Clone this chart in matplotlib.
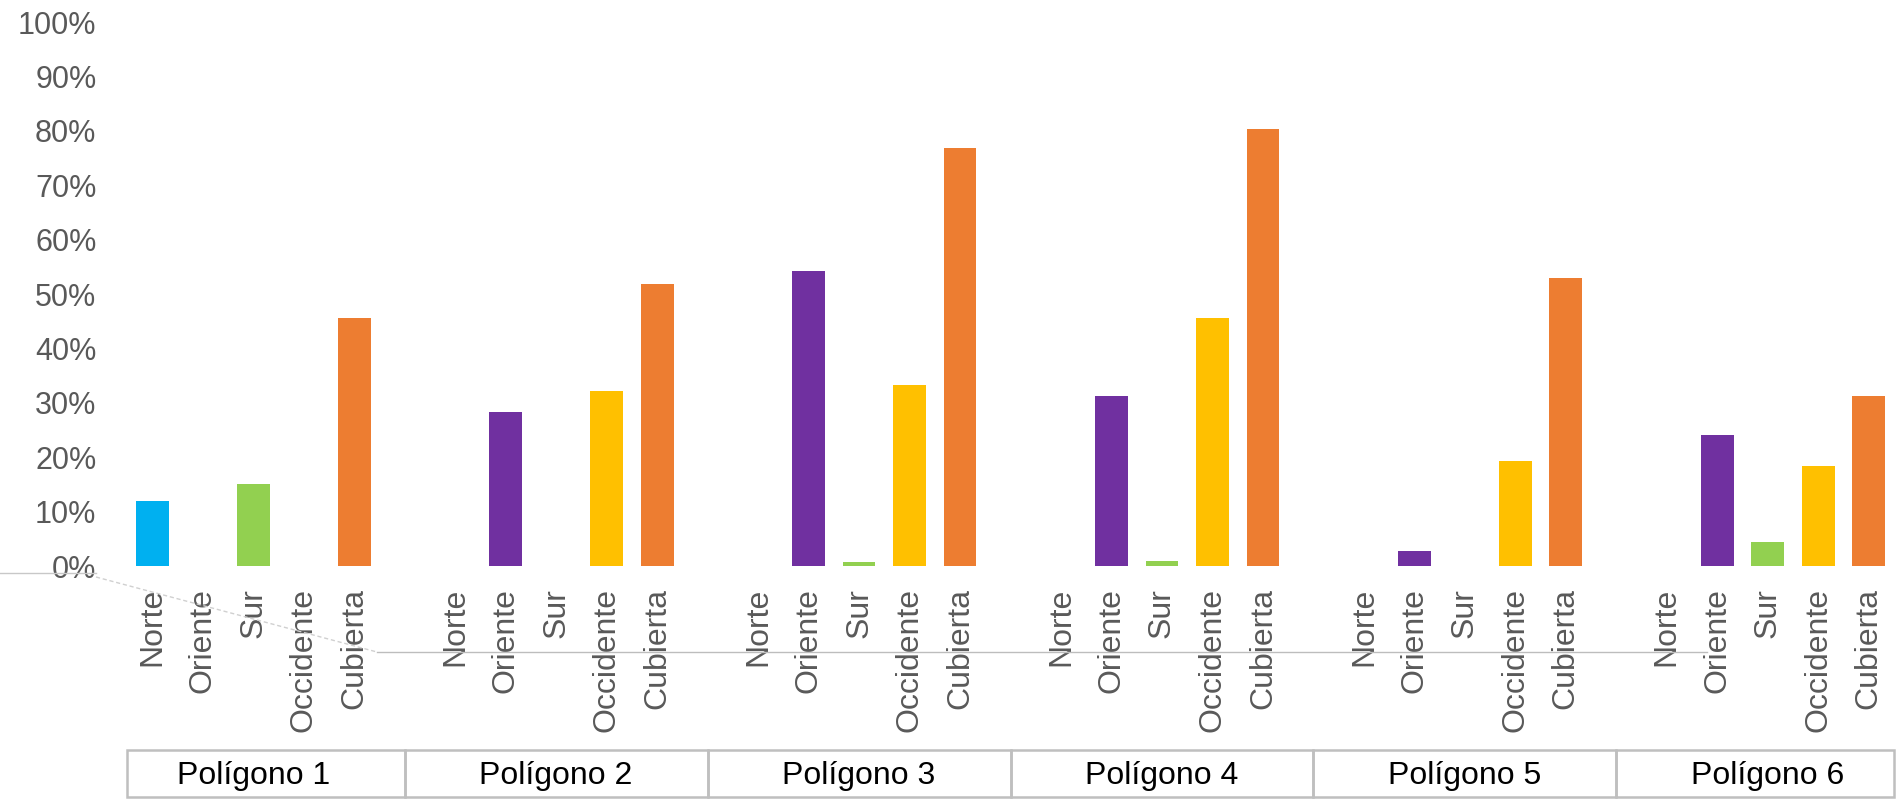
import matplotlib
matplotlib.use("Agg")
import matplotlib.pyplot as plt
from matplotlib.patches import Rectangle
from matplotlib.lines import Line2D
import numpy as np

plt.rcParams['font.family'] = ['Liberation Sans', 'DejaVu Sans']

# ---- data ----
groups = ["Polígono 1", "Polígono 2", "Polígono 3", "Polígono 4", "Polígono 5", "Polígono 6"]
orientations = ["Norte", "Oriente", "Sur", "Occidente", "Cubierta"]
norte     = [12.0, 0.0, 0.0, 0.0, 0.0, 0.0]
oriente   = [0.0, 28.4, 54.2, 31.3, 2.8, 24.0]
sur       = [15.1, 0.0, 0.7, 0.9, 0.0, 4.4]
occidente = [0.0, 32.2, 33.3, 45.5, 19.3, 18.4]
cubierta  = [45.5, 51.8, 76.9, 80.3, 52.9, 31.3]
yticks = [0, 10, 20, 30, 40, 50, 60, 70, 80, 90, 100]

series = [norte, oriente, sur, occidente, cubierta]
colors = ["#00B0F0", "#7030A0", "#92D050", "#FFC000", "#ED7D31"]

W, H = 1897, 801
fig = plt.figure(figsize=(W / 100, H / 100), dpi=100)
fig.patch.set_facecolor("white")

ax_left, ax_right = 127, 1894
y0_px, y100_px = 566, 22
ax = fig.add_axes([ax_left / W, (H - y0_px) / H, (ax_right - ax_left) / W, (y0_px - y100_px) / H])

slot = len(orientations) + 1
positions, labels = [], []
for g in range(len(groups)):
    for i, (vals, col) in enumerate(zip(series, colors)):
        x = g * slot + i
        positions.append(x)
        labels.append(orientations[i])
        if vals[g] > 0:
            ax.bar(x, vals[g], width=0.65, color=col)

xmin, xmax = -0.5, len(groups) * slot - 1.5
ax.set_xlim(xmin, xmax)
ax.set_ylim(0, 100)
ax.set_yticks(yticks)
ax.set_yticklabels([f"{v}%" for v in yticks])
ax.set_xticks(positions)
ax.set_xticklabels(labels, rotation=90, va="top", ha="center")
ax.tick_params(axis="x", length=0, pad=16, labelsize=23, colors="#595959")
ax.tick_params(axis="y", length=0, pad=22, labelsize=22, colors="#595959")
for s in ax.spines.values():
    s.set_visible(False)

# ---- group table ----
tab = fig.add_axes([ax_left / W, 4 / H, (ax_right - ax_left) / W, 47 / H])
tab.set_xlim(xmin, xmax)
tab.set_ylim(0, 1)
tab.axis("off")
for g, name in enumerate(groups):
    a = xmin if g == 0 else g * slot - 1
    b = xmax if g == len(groups) - 1 else (g + 1) * slot - 1
    tab.add_patch(Rectangle((a, 0), b - a, 1, fill=False, edgecolor="#BFBFBF",
                            linewidth=1.8, clip_on=False))
    tab.text((g * slot + (g * slot + len(orientations) - 1)) / 2, 0.45, name,
             ha="center", va="center", fontsize=23, color="black")

# ---- faint axis-line artifact ----
def fx(px):
    return px / W
def fy(py):
    return (H - py) / H
fig.add_artist(Line2D([fx(0), fx(96)], [fy(573), fy(573)], color="#C8C8C8", lw=1.0))
fig.add_artist(Line2D([fx(96), fx(377)], [fy(577), fy(652)], color="#D0D0D0", lw=1.0, ls=(0, (3, 2))))
fig.add_artist(Line2D([fx(377), fx(1707)], [fy(652), fy(652)], color="#BDBDBD", lw=1.0))

fig.savefig("out.png", dpi=100, facecolor="white")
